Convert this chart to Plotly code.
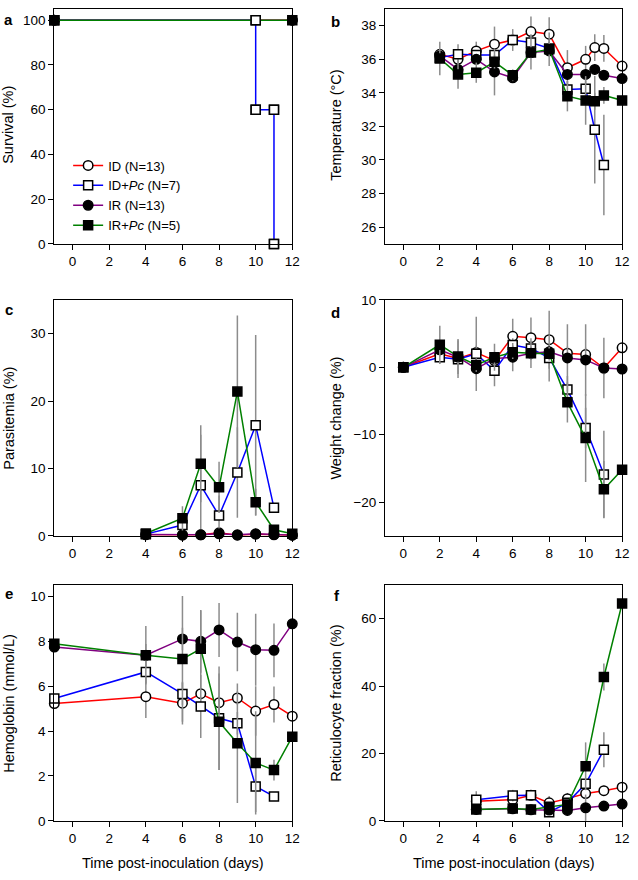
import plotly.graph_objects as go

# ---------------- data ----------------
series_keys = ["ID", "IDPc", "IR", "IRPc"]
series_names = ["ID (N=13)", "ID+<i>Pc</i> (N=7)", "IR (N=13)", "IR+<i>Pc</i> (N=5)"]

x_ticks = [0, 2, 4, 6, 8, 10, 12]

# a: survival
surv_x_ID = [-1, 12]
surv_ID = [100, 100]
surv_x_IDPc = [-1, 10, 10, 11, 11]
surv_IDPc = [100, 100, 60, 60, 0]
surv_x_IR = [-1, 12]
surv_IR = [100, 100]
surv_x_IRPc = [-1, 12]
surv_IRPc = [100, 100]

# b: temperature
temp_x = [2, 3, 4, 5, 6, 7, 8, 9, 10, 10.5, 11, 12]
temp_x_IDPc = [2, 3, 4, 5, 6, 7, 8, 9, 10, 10.5, 11]
temp_ID = [36.3, 36.0, 36.5, 36.9, 37.15, 37.65, 37.5, 35.5, 36.0, 36.7, 36.65, 35.6]
temp_ID_err = [0.3, 0.3, 0.55, 1.05, 0.3, 0.9, 1.0, 1.05, 0.8, 0.8, 0.8, 0.3]
temp_IDPc = [36.1, 36.3, 36.25, 36.25, 37.15, 37.0, 36.65, 34.2, 34.25, 31.8, 29.7]
temp_IDPc_err = [0.3, 0.6, 0.3, 0.3, 0.65, 0.5, 0.4, 0.5, 0.5, 3.2, 3.0]
temp_IR = [36.2, 35.4, 36.0, 35.25, 34.9, 36.4, 36.5, 35.1, 35.1, 35.4, 35.05, 34.85]
temp_IR_err = [0.3, 0.3, 0.3, 1.4, 0.3, 0.3, 0.3, 0.3, 0.3, 0.3, 0.3, 0.2]
temp_IRPc = [36.05, 35.1, 35.2, 35.85, 35.05, 36.4, 36.6, 33.8, 33.55, 33.5, 33.85, 33.55]
temp_IRPc_err = [1.0, 0.85, 0.6, 0.4, 0.35, 1.0, 1.0, 0.9, 1.45, 0.5, 0.5, 0.2]

# c: parasitemia
para_x = [4, 6, 7, 8, 9, 10, 11, 12]
para_x_IDPc = [4, 6, 7, 8, 9, 10, 11]
para_ID = [0.15, 0.1, 0.15, 0.45, 0.1, 0.25, 0.2, 0.1]
para_ID_err = [0.1, 0.1, 0.1, 0.3, 0.1, 0.2, 0.1, 0.1]
para_IDPc = [0.25, 1.6, 7.5, 3.0, 9.4, 16.4, 4.15]
para_IDPc_err = [0.1, 1.0, 7.5, 3.0, 6.7, 13.4, 0.5]
para_IR = [0.2, 0.15, 0.15, 0.3, 0.15, 0.3, 0.15, 0.1]
para_IR_err = [0.1, 0.1, 0.1, 0.2, 0.1, 0.2, 0.1, 0.1]
para_IRPc = [0.35, 2.6, 10.7, 7.2, 21.4, 5.0, 0.9, 0.3]
para_IRPc_err = [0.1, 1.8, 5.7, 3.8, 11.3, 2.0, 0.5, 0.1]

# d: weight change
wt_x = [0, 2, 3, 4, 5, 6, 7, 8, 9, 10, 11, 12]
wt_x_IDPc = [0, 2, 3, 4, 5, 6, 7, 8, 9, 10, 11]
wt_ID = [0, 2.0, 1.3, 2.2, 1.0, 4.6, 4.4, 4.1, 2.1, 1.9, -0.1, 2.9]
wt_ID_err = [0, 0.8, 0.8, 1.0, 1.0, 2.6, 3.0, 4.3, 1.0, 1.0, 1.0, 0.5]
wt_IDPc = [0, 1.5, 1.2, 2.0, -0.5, 3.3, 2.8, 1.4, -3.3, -9.0, -15.9]
wt_IDPc_err = [0, 1.0, 2.8, 5.5, 2.3, 1.0, 1.0, 3.5, 2.0, 3.0, 6.5]
wt_IR = [0, 2.6, 1.5, -0.2, 1.3, 1.5, 2.1, 2.3, 1.4, 1.1, -0.1, -0.25]
wt_IR_err = [0, 1.0, 1.0, 1.0, 1.0, 2.1, 1.0, 1.0, 5.0, 5.3, 4.5, 0.5]
wt_IRPc = [0, 3.35, 1.6, 0.35, 1.5, 2.25, 2.1, 2.0, -5.2, -10.5, -18.1, -15.2]
wt_IRPc_err = [0, 2.8, 2.6, 1.0, 2.0, 1.0, 2.2, 1.0, 3.0, 6.5, 4.2, 0.5]

# e: hemoglobin
hb_x = [-1, 4, 6, 7, 8, 9, 10, 11, 12]
hb_x_IDPc = [-1, 4, 6, 7, 8, 9, 10, 11]
hb_ID = [5.22, 5.53, 5.24, 5.66, 5.26, 5.47, 4.89, 5.18, 4.66]
hb_ID_err = [0.1, 0.95, 0.95, 0.3, 0.3, 0.3, 1.1, 0.8, 0.2]
hb_IDPc = [5.45, 6.63, 5.65, 5.09, 4.57, 4.35, 1.53, 1.09]
hb_IDPc_err = [0.1, 0.5, 0.5, 1.4, 2.3, 0.5, 1.13, 0.2]
hb_IR = [7.74, 7.37, 8.1, 7.99, 8.5, 7.96, 7.62, 7.59, 8.77]
hb_IR_err = [0.1, 0.5, 0.5, 1.4, 1.2, 1.3, 1.6, 1.2, 0.1]
hb_IRPc = [7.88, 7.37, 7.21, 7.66, 4.41, 3.46, 2.58, 2.26, 3.75]
hb_IRPc_err = [0.1, 1.3, 2.8, 1.7, 2.15, 2.66, 2.3, 0.46, 0.2]

# f: reticulocytes
ret_x = [4, 6, 7, 8, 9, 10, 11, 12]
ret_x_IDPc = [4, 6, 7, 8, 9, 10, 11]
ret_ID = [5.8, 6.3, 7.6, 5.35, 6.6, 8.1, 8.95, 10.0]
ret_ID_err = [0.5, 0.5, 0.5, 2.0, 1.7, 1.0, 1.5, 0.5]
ret_IDPc = [6.3, 7.5, 7.6, 2.6, 5.35, 11.0, 21.1]
ret_IDPc_err = [2.5, 1.7, 1.0, 0.5, 0.5, 1.0, 5.2]
ret_IR = [3.4, 3.6, 3.3, 3.2, 3.1, 3.9, 4.4, 5.0]
ret_IR_err = [0.5, 0.5, 0.5, 0.5, 1.6, 3.9, 0.5, 0.5]
ret_IRPc = [3.4, 3.7, 3.4, 4.2, 4.9, 16.2, 42.7, 64.5]
ret_IRPc_err = [0.5, 0.5, 0.5, 0.5, 0.5, 7.1, 4.0, 0.5]

# ---------------- styles ----------------
W, H = 638, 880
FONT = "Arial, 'Liberation Sans', sans-serif"
line_col = {"ID": "#ff0000", "IDPc": "#0000ff", "IR": "#800080", "IRPc": "#008000"}
sym = {"ID": "circle", "IDPc": "square", "IR": "circle", "IRPc": "square"}
fill = {"ID": "white", "IDPc": "white", "IR": "black", "IRPc": "black"}
msize = {"ID": 9.5, "IDPc": 9, "IR": 9.5, "IRPc": 9}

fig = go.Figure()


def add(panel, key, x, y, err=None, legend=False, mode="lines+markers"):
    xa = "x" if panel == 1 else f"x{panel}"
    ya = "y" if panel == 1 else f"y{panel}"
    tr = dict(
        x=x, y=y, xaxis=xa, yaxis=ya, mode=mode,
        name=series_names[series_keys.index(key)],
        showlegend=legend, cliponaxis=False,
        line=dict(color=line_col[key], width=1.5),
        marker=dict(symbol=sym[key], size=msize[key], color=fill[key],
                    line=dict(color="black", width=1.5)),
    )
    if err is not None:
        tr["error_y"] = dict(type="data", array=err, symmetric=True,
                             color="#8c8c8c", thickness=1.5, width=0)
    fig.add_trace(go.Scatter(**tr))


# a
add(1, "ID", surv_x_ID, surv_ID, legend=True)
add(1, "IDPc", surv_x_IDPc, surv_IDPc, legend=True)
add(1, "IR", surv_x_IR, surv_IR, legend=True)
add(1, "IRPc", surv_x_IRPc, surv_IRPc, legend=True)
add(1, "IDPc", surv_x_IDPc[1:], surv_IDPc[1:], mode="markers")
# b
add(2, "ID", temp_x, temp_ID, temp_ID_err)
add(2, "IDPc", temp_x_IDPc, temp_IDPc, temp_IDPc_err)
add(2, "IR", temp_x, temp_IR, temp_IR_err)
add(2, "IRPc", temp_x, temp_IRPc, temp_IRPc_err)
# c
add(3, "ID", para_x, para_ID, para_ID_err)
add(3, "IDPc", para_x_IDPc, para_IDPc, para_IDPc_err)
add(3, "IR", para_x, para_IR, para_IR_err)
add(3, "IRPc", para_x, para_IRPc, para_IRPc_err)
# d
add(4, "ID", wt_x, wt_ID, wt_ID_err)
add(4, "IDPc", wt_x_IDPc, wt_IDPc, wt_IDPc_err)
add(4, "IR", wt_x, wt_IR, wt_IR_err)
add(4, "IRPc", wt_x, wt_IRPc, wt_IRPc_err)
# e
add(5, "ID", hb_x, hb_ID, hb_ID_err)
add(5, "IDPc", hb_x_IDPc, hb_IDPc, hb_IDPc_err)
add(5, "IR", hb_x, hb_IR, hb_IR_err)
add(5, "IRPc", hb_x, hb_IRPc, hb_IRPc_err)
# f
add(6, "ID", ret_x, ret_ID, ret_ID_err)
add(6, "IDPc", ret_x_IDPc, ret_IDPc, ret_IDPc_err)
add(6, "IR", ret_x, ret_IR, ret_IR_err)
add(6, "IRPc", ret_x, ret_IRPc, ret_IRPc_err)

# ---------------- layout ----------------
col_px = [(55, 296), (390, 630)]
row_px = [(2, 241), (298, 538), (588, 828)]
y_ranges = [[0, 105], [25, 39], [0, 35], [-25, 10], [0, 10.5], [0, 70]]
y_dticks = [20, 2, 10, 10, 2, 20]
y_tick0 = [0, 26, 0, -20, 0, 0]

axis_common = dict(showline=True, linecolor="black", linewidth=1.2, mirror=True,
                   ticks="outside", ticklen=5, tickwidth=1.2, tickcolor="black",
                   showgrid=False, zeroline=False,
                   tickfont=dict(family=FONT, size=13.5, color="black"))

layout = dict(width=W, height=H, margin=dict(l=0, r=0, t=0, b=0),
              paper_bgcolor="white", plot_bgcolor="white",
              font=dict(family=FONT, color="black"))
for i in range(6):
    r, c = divmod(i, 2)
    x0, x1 = col_px[c]
    yt, yb = row_px[r]
    xa = "xaxis" if i == 0 else f"xaxis{i+1}"
    ya = "yaxis" if i == 0 else f"yaxis{i+1}"
    layout[xa] = dict(axis_common, domain=[x0 / W, x1 / W], range=[-1, 12],
                      tickvals=x_ticks, anchor="y" if i == 0 else f"y{i+1}")
    layout[ya] = dict(axis_common, domain=[1 - yb / H, 1 - yt / H], range=y_ranges[i],
                      tick0=y_tick0[i], dtick=y_dticks[i],
                      anchor="x" if i == 0 else f"x{i+1}")

layout["legend"] = dict(x=69 / W, y=1 - 146 / H, xanchor="left", yanchor="top",
                        bgcolor="rgba(0,0,0,0)", itemwidth=30, tracegroupgap=0,
                        font=dict(family=FONT, size=13, color="black"))

ann = []
ytitles = [("Survival (%)", 8, 120), ("Temperature (°C)", 340, 120),
           ("Parasitemia (%)", 9, 418), ("Weight change (%)", 340, 418),
           ("Hemoglobin (mmol/L)", 9, 708), ("Reticulocyte fraction (%)", 340, 708)]
for t, px, py in ytitles:
    ann.append(dict(text=t, x=px / W, y=1 - py / H, xref="paper", yref="paper",
                    showarrow=False, textangle=-90, xanchor="center", yanchor="middle",
                    font=dict(family=FONT, size=14.5, color="black")))
for px in (175.5, 510):
    ann.append(dict(text="Time post-inoculation (days)", x=px / W, y=1 - 871 / H,
                    xref="paper", yref="paper", showarrow=False,
                    xanchor="center", yanchor="middle",
                    font=dict(family=FONT, size=14.5, color="black")))
letters = [("a", 9, 13), ("b", 340, 15), ("c", 9, 308), ("d", 340, 311),
           ("e", 9, 597), ("f", 341, 599)]
for t, px, py in letters:
    ann.append(dict(text=f"<b>{t}</b>", x=px / W, y=1 - py / H, xref="paper", yref="paper",
                    showarrow=False, xanchor="center", yanchor="middle",
                    font=dict(family=FONT, size=15, color="black")))
layout["annotations"] = ann

fig.update_layout(**layout)
fig.write_html("out.html", config={"displayModeBar": False},
               post_script="document.body.style.margin='0px';document.body.style.overflow='hidden';")
